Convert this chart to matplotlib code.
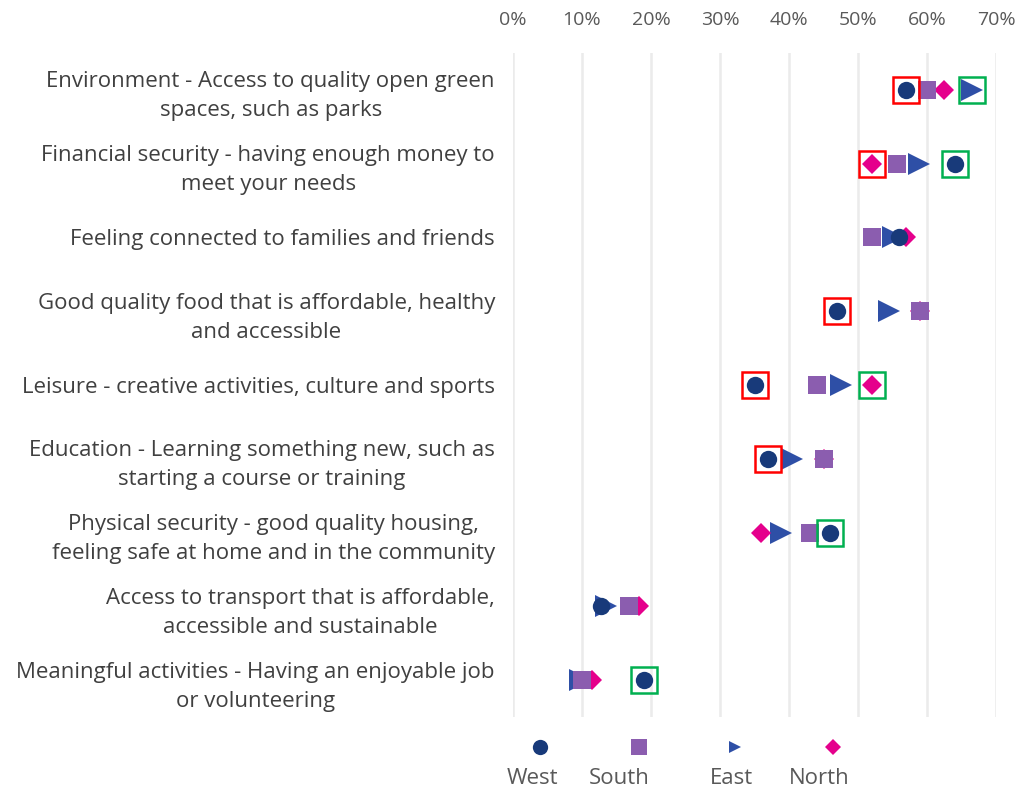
import matplotlib
matplotlib.use("Agg")
import matplotlib.pyplot as plt

# Categories (top to bottom)
categories = [
    "Environment - Access to quality open green\nspaces, such as parks",
    "Financial security - having enough money to\nmeet your needs",
    "Feeling connected to families and friends",
    "Good quality food that is affordable, healthy\nand accessible",
    "Leisure - creative activities, culture and sports",
    "Education - Learning something new, such as\nstarting a course or training",
    "Physical security - good quality housing,\nfeeling safe at home and in the community",
    "Access to transport that is affordable,\naccessible and sustainable",
    "Meaningful activities - Having an enjoyable job\nor volunteering",
]

# Share of respondents by region
west = [0.57, 0.64, 0.56, 0.47, 0.35, 0.37, 0.46, 0.128, 0.19]
south = [0.60, 0.557, 0.52, 0.59, 0.44, 0.45, 0.43, 0.168, 0.10]
east = [0.665, 0.588, 0.55, 0.545, 0.475, 0.405, 0.388, 0.135, 0.097]
north = [0.625, 0.52, 0.57, 0.59, 0.52, 0.45, 0.36, 0.182, 0.114]

# Highlight boxes: (row, value)
lowest = [(0, 0.57), (1, 0.52), (3, 0.47), (4, 0.35), (5, 0.37)]
highest = [(0, 0.665), (1, 0.64), (4, 0.52), (6, 0.46), (8, 0.19)]

regions = ["West", "South", "East", "North"]
colors = {"West": "#183A7A", "South": "#8B5DAF", "East": "#2E4FA6", "North": "#E5008C"}
markers = {"West": "o", "South": "s", "East": ">", "North": "D"}
msizes = {"West": 12.5, "South": 12.5, "East": 16, "North": 10}
values = {"West": west, "South": south, "East": east, "North": north}

plt.rcParams['font.family'] = ['Open Sans', 'DejaVu Sans']

fig = plt.figure(figsize=(10.18, 7.9), dpi=100)
ax = fig.add_axes([513 / 1018, 1 - 717 / 790, 483 / 1018, 664 / 790])

rows = list(range(len(categories)))
# draw order: East at the back, West on top
for name in ["East", "North", "South", "West"]:
    ax.plot(values[name], rows, linestyle="none", marker=markers[name],
            markersize=msizes[name], color=colors[name], markeredgewidth=0,
            zorder=3)

for r, v in lowest:
    ax.plot(v, r, marker="s", markersize=19, mfc="none", mec="#FF0000",
            mew=1.8, linestyle="none", zorder=4)
for r, v in highest:
    ax.plot(v, r, marker="s", markersize=19, mfc="none", mec="#00B050",
            mew=1.8, linestyle="none", zorder=4)

ax.set_xlim(0, 0.7)
ax.set_ylim(len(categories) - 0.5, -0.5)
ax.set_xticks([i / 10 for i in range(8)])
ax.set_xticklabels([f"{i * 10}%" for i in range(8)])
ax.xaxis.tick_top()
ax.tick_params(axis="x", length=0, pad=17, labelsize=14, labelcolor="#595959")
ax.set_yticks(rows)
ax.set_yticklabels(categories)
ax.tick_params(axis="y", length=0, pad=13, labelsize=16, labelcolor="#404040")
for lbl in ax.get_yticklabels():
    lbl.set_multialignment("center")
    lbl.set_linespacing(1.5)
ax.grid(axis="x", color="#EBEBEB", linewidth=1.8)
ax.set_axisbelow(True)
for s in ax.spines.values():
    s.set_visible(False)

# Legend: marker above label
leg_marker_x = [540, 639, 735, 833]
leg_text_x = [532, 619, 731, 819]
leg_sizes = {"West": 11, "South": 11.5, "East": 9, "North": 8}
for name, mx, tx in zip(regions, leg_marker_x, leg_text_x):
    fig.lines.append(plt.Line2D([mx / 1018], [1 - 747 / 790], transform=fig.transFigure,
                                marker=markers[name], markersize=leg_sizes[name],
                                color=colors[name], markeredgewidth=0, linestyle="none"))
    fig.text(tx / 1018, 1 - 778 / 790, name, ha="center", va="center",
             fontsize=16, color="#595959")

fig.savefig("out.png", dpi=100, facecolor="white")
